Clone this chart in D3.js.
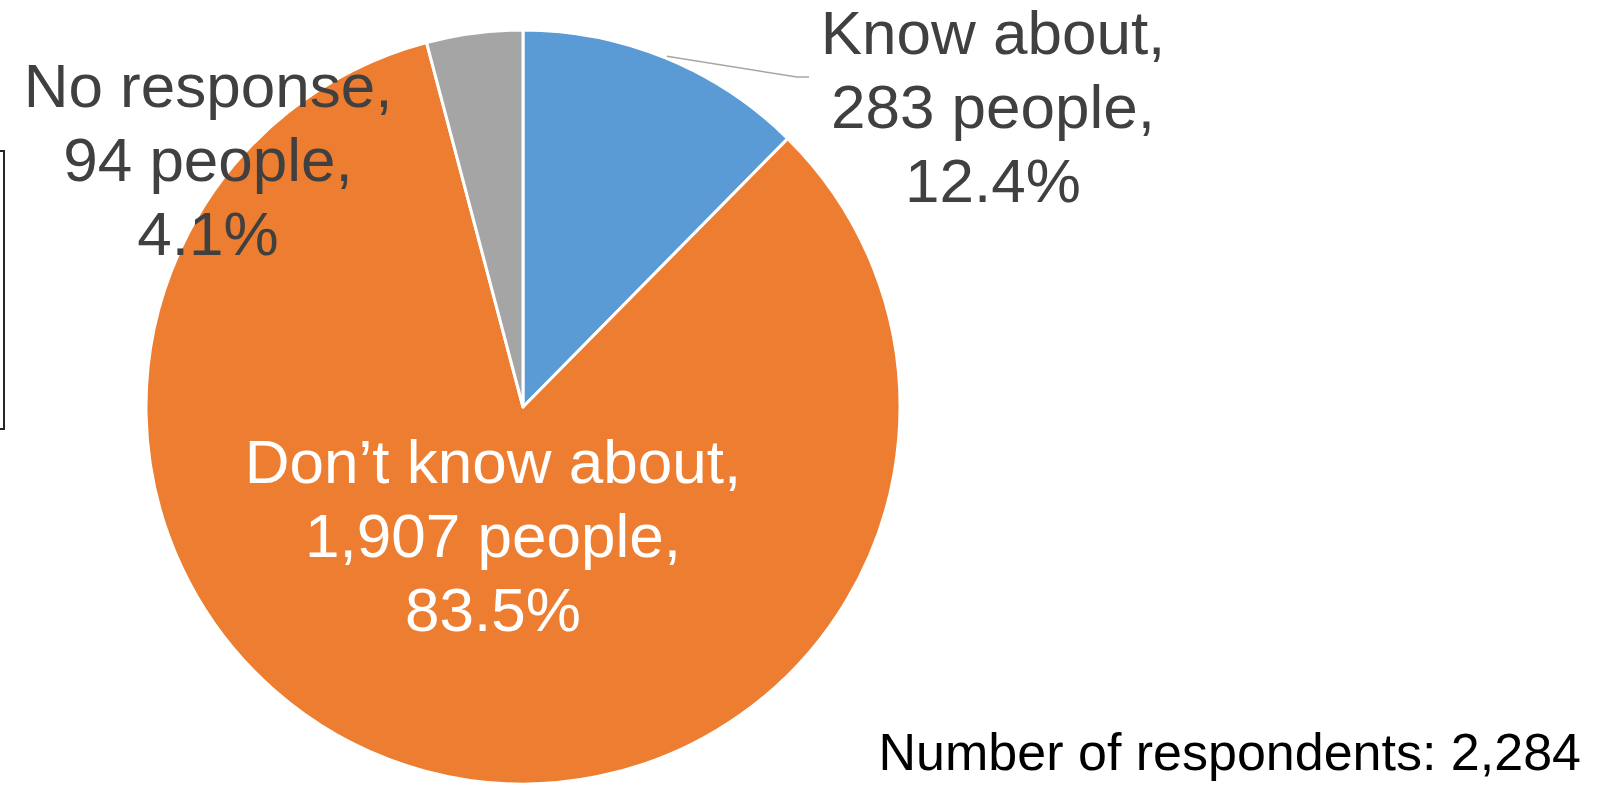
<!DOCTYPE html>
<html>
<head>
<meta charset="utf-8">
<script src="https://cdn.jsdelivr.net/npm/d3@7"></script>
<style>
  html, body { margin: 0; padding: 0; background: #fff; overflow: hidden; }
  svg { display: block; font-family: "Liberation Sans", Arial, sans-serif; }
</style>
</head>
<body>
<svg id="chart" width="1607" height="785"></svg>
<script>
// chart data
const categories = ['Know about', 'Don\u2019t know about', 'No response'];
const counts = [283, 1907, 94];
const percents = ['12.4%', '83.5%', '4.1%'];
const sliceColors = ['#5b9bd5', '#ed7d31', '#a5a5a5'];
const respondents = '2,284';

const width = 1607, height = 785;
const cx = 523, cy = 407, radius = 377;

const svg = d3.select('#chart');

// left edge box (partly cut off)
svg.append('rect')
    .attr('x', -20)
    .attr('y', 151)
    .attr('width', 24)
    .attr('height', 278)
    .style('fill', 'none')
    .style('stroke', '#262626')
    .style('stroke-width', 2);

let pie = d3.pie().sort(null).value(d => d.count);
let rows = categories.map((c, i) => ({name: c, count: counts[i], pct: percents[i], color: sliceColors[i]}));
let arcs = pie(rows);

let arc = d3.arc().innerRadius(0).outerRadius(radius);

let g = svg.append('g').attr('transform', 'translate(' + cx + ',' + cy + ')');

g.selectAll('path')
    .data(arcs)
    .enter().append('path')
    .attr('d', arc)
    .style('fill', d => d.data.color)
    .style('stroke', '#fff')
    .style('stroke-width', 3)
    .style('stroke-linejoin', 'round');

// label placement (relative to pie centre) and text colour
let labelPos = [
    {x: 470, y: -353, fill: '#404040'},
    {x: -30, y: 76, fill: '#ffffff'},
    {x: -315, y: -300, fill: '#404040'}
];

// leader line for the first slice
let a0 = (arcs[0].startAngle + arcs[0].endAngle) / 2;
let p0 = [Math.sin(a0) * (radius + 2), -Math.cos(a0) * (radius + 2)];
let line = d3.line();
g.append('path')
    .attr('d', line([p0, [274, -330], [286, -330]]))
    .style('fill', 'none')
    .style('stroke', '#a6a6a6')
    .style('stroke-width', 1.5);

arcs.forEach((d, i) => {
    let lp = labelPos[i];
    let t = g.append('text')
        .attr('text-anchor', 'middle')
        .style('font-size', '62px')
        .style('fill', lp.fill);
    let lines = [d.data.name + ',', d3.format(',')(d.data.count) + ' people,', d.data.pct];
    lines.forEach((s, k) => {
        t.append('tspan')
            .attr('x', lp.x)
            .attr('y', lp.y + k * 74)
            .text(s);
    });
});

// footnote
svg.append('text')
    .attr('x', 1581)
    .attr('y', 770)
    .attr('text-anchor', 'end')
    .style('font-size', '52px')
    .style('fill', '#000')
    .text('Number of respondents: ' + respondents);
</script>
</body>
</html>
